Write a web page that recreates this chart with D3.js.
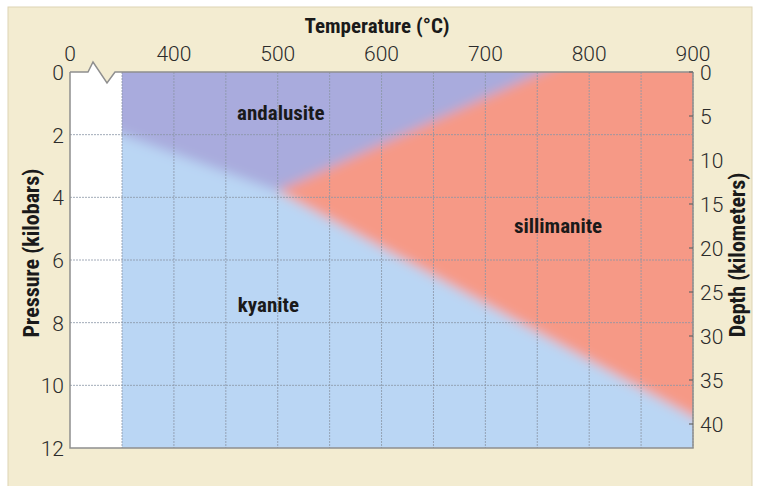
<!DOCTYPE html>
<html lang="en">
<head>
    <meta charset="UTF-8">
    <title>Aluminosilicate phase diagram</title>
    <script src="https://d3js.org/d3.v7.min.js"></script>
    <style>
        body { margin: 0; background: #fff; }
        .tick-label { font-family: Roboto, "Liberation Sans", sans-serif; font-weight: 300; font-size: 21px; fill: #2b2b2b; }
        .bold-label { font-family: "Liberation Sans Narrow", "Roboto Condensed", Roboto, sans-serif; font-weight: bold; fill: #1a1a1a; }
    </style>
</head>
<body>
    <div id="chart"></div>
    <script>
        // axis ticks
        var tempTicks = [0, 400, 500, 600, 700, 800, 900];
        var pressureTicks = [0, 2, 4, 6, 8, 10, 12];
        var depthTicks = [0, 5, 10, 15, 20, 25, 30, 35, 40];
        var gridTemps = [350, 400, 450, 500, 550, 600, 650, 700, 750, 800, 850, 900];
        var gridPressures = [2, 4, 6, 8, 10];

        // phase boundaries  [temperature °C, pressure kbar]
        var triplePoint = [500, 3.8];
        var andKyEnd = [350, 2.0];
        var kySilEnd = [900, 11.0];
        var andSilEnd = [755, 0];

        // phase field labels
        var phaseNames = ["andalusite", "kyanite", "sillimanite"];
        var labelTemps = [503, 491, 770];
        var labelPressures = [1.3, 7.45, 4.9];
        var phaseColors = ["#a9abdd", "#bad6f4", "#f69986"];

        var width = 757, height = 486;
        var plotLeft = 70, plotRight = 693, plotTop = 72, plotBottom = 448;

        var svg = d3.select("#chart").append("svg")
            .attr("width", width)
            .attr("height", height);

        // scales (temperature axis is broken between 0 and 350)
        var x = d3.scaleLinear().domain([0, 350, 900]).range([plotLeft, 122, plotRight]);
        var xr = d3.scaleLinear().domain([350, 900]).range([122, plotRight]);
        var y = d3.scaleLinear().domain([0, 12]).range([plotTop, plotBottom]);
        var yDepth = d3.scaleLinear().domain([0, 40]).range([plotTop, 424]);

        // cream panel
        svg.append("rect")
            .attr("x", 8).attr("y", 7)
            .attr("width", 744).attr("height", 485)
            .attr("fill", "#f3ecd1")
            .attr("stroke", "#ddd4b3");

        var defs = svg.append("defs");
        defs.append("clipPath").attr("id", "plotClip")
            .append("rect")
            .attr("x", xr(350)).attr("y", plotTop)
            .attr("width", xr(900) - xr(350)).attr("height", plotBottom - plotTop);
        defs.append("filter").attr("id", "soft")
            .attr("x", "-20%").attr("y", "-20%").attr("width", "140%").attr("height", "140%")
            .append("feGaussianBlur").attr("stdDeviation", 6);

        // extrapolate a boundary line to a given temperature / pressure
        function atTemp(p, q, t) {
            return [t, p[1] + (q[1] - p[1]) * (t - p[0]) / (q[0] - p[0])];
        }
        function atPressure(p, q, pr) {
            return [p[0] + (q[0] - p[0]) * (pr - p[1]) / (q[1] - p[1]), pr];
        }

        var andPoly = [
            atTemp(triplePoint, andKyEnd, 310),
            [310, -1.5],
            atPressure(triplePoint, andSilEnd, -1.5),
            triplePoint
        ];
        var silPoly = [
            atPressure(triplePoint, andSilEnd, -1.5),
            [940, -1.5],
            atTemp(triplePoint, kySilEnd, 940),
            triplePoint
        ];

        var line = d3.line().x(function(d) { return xr(d[0]); }).y(function(d) { return y(d[1]); });

        var field = svg.append("g").attr("clip-path", "url(#plotClip)")
            .append("g").attr("filter", "url(#soft)");
        field.append("rect")
            .attr("x", xr(310)).attr("y", y(-1.5))
            .attr("width", xr(940) - xr(310)).attr("height", y(13.5) - y(-1.5))
            .attr("fill", phaseColors[1]);
        field.append("path").attr("d", line(andPoly) + "Z").attr("fill", phaseColors[0]);
        field.append("path").attr("d", line(silPoly) + "Z").attr("fill", phaseColors[2]);

        // white strip for the broken part of the axis
        var x0 = x(0);
        var breakPts = [[x0, plotTop], [x0 + 18, plotTop], [x0 + 23, plotTop - 10], [x0 + 37, plotTop + 11], [x0 + 45, plotTop], [x(350), plotTop]];
        svg.append("path")
            .attr("d", d3.line()(breakPts.concat([[x(350), plotBottom], [x0, plotBottom]])) + "Z")
            .attr("fill", "#fff");

        // grid
        var grid = svg.append("g")
            .attr("stroke", "#8a95a6")
            .attr("stroke-width", 0.8)
            .attr("stroke-dasharray", "2,1");
        grid.selectAll(".vgrid").data(gridTemps).enter().append("line")
            .attr("x1", function(d) { return x(d); }).attr("x2", function(d) { return x(d); })
            .attr("y1", plotTop).attr("y2", plotBottom);
        grid.selectAll(".hgrid").data(gridPressures).enter().append("line")
            .attr("x1", x0).attr("x2", x(900))
            .attr("y1", function(d) { return y(d); }).attr("y2", function(d) { return y(d); });

        // frame
        var frame = svg.append("g").attr("fill", "none").attr("stroke", "#8f8f8f").attr("stroke-width", 1.5);
        frame.append("path").attr("d", d3.line()(breakPts.concat([[x(900), plotTop]])));
        frame.append("path").attr("d", d3.line()([[x0, plotTop], [x0, plotBottom], [x(900), plotBottom], [x(900), plotTop]]));

        // right ticks
        svg.selectAll(".rtick").data(depthTicks).enter().append("line")
            .attr("x1", plotRight - 4).attr("x2", plotRight)
            .attr("y1", function(d) { return yDepth(d); }).attr("y2", function(d) { return yDepth(d); })
            .attr("stroke", "#666").attr("stroke-width", 1.2);

        // tick labels
        svg.selectAll(".tlab").data(tempTicks).enter().append("text")
            .attr("class", "tick-label")
            .attr("x", function(d) { return x(d); })
            .attr("y", 61)
            .attr("text-anchor", "middle")
            .text(function(d) { return d; });
        svg.selectAll(".plab").data(pressureTicks).enter().append("text")
            .attr("class", "tick-label")
            .attr("x", 64)
            .attr("y", function(d) { return y(d) + 8; })
            .attr("text-anchor", "end")
            .text(function(d) { return d; });
        svg.selectAll(".dlab").data(depthTicks).enter().append("text")
            .attr("class", "tick-label")
            .attr("x", 700)
            .attr("y", function(d) { return yDepth(d) + 8; })
            .attr("text-anchor", "start")
            .text(function(d) { return d; });

        // axis titles
        svg.append("text").attr("class", "bold-label")
            .attr("x", 377).attr("y", 33)
            .attr("text-anchor", "middle")
            .style("font-size", "21px")
            .text("Temperature (°C)");
        svg.append("text").attr("class", "bold-label")
            .attr("transform", "translate(39,253) rotate(-90)")
            .attr("text-anchor", "middle")
            .style("font-size", "22px")
            .text("Pressure (kilobars)");
        svg.append("text").attr("class", "bold-label")
            .attr("transform", "translate(745,255) rotate(-90)")
            .attr("text-anchor", "middle")
            .style("font-size", "22px")
            .text("Depth (kilometers)");

        // phase labels
        svg.selectAll(".phase").data(phaseNames).enter().append("text")
            .attr("class", "bold-label")
            .attr("x", function(d, i) { return xr(labelTemps[i]); })
            .attr("y", function(d, i) { return y(labelPressures[i]) + 7; })
            .attr("text-anchor", "middle")
            .style("font-size", "21px")
            .text(function(d) { return d; });
    </script>
</body>
</html>
